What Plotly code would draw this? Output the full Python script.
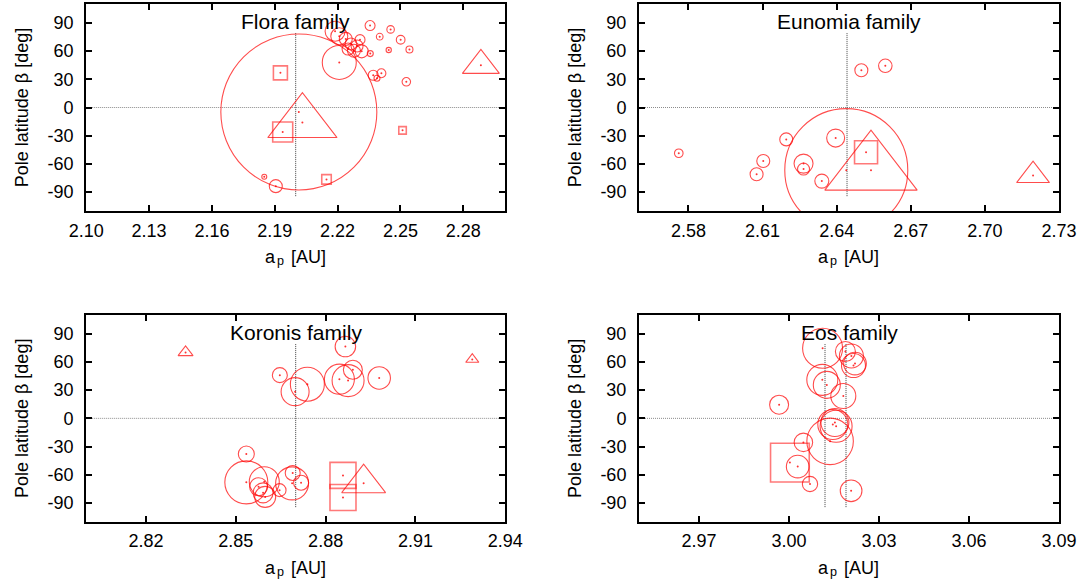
import plotly.graph_objects as go

# ---------------- data (a_p [AU], beta [deg], marker size [px]) ----------------
flora_circle_a = [2.2015, 2.2208, 2.1905, 2.1850, 2.2188, 2.2208, 2.2239, 2.2264, 2.2250,
                  2.2278, 2.2315, 2.2293, 2.2307, 2.2355, 2.2453, 2.2401, 2.2501, 2.2444,
                  2.2543, 2.2356, 2.2370, 2.2409, 2.2388, 2.2528]
flora_circle_beta = [-4.8, 47.9, -83.6, -73.6, 81.1, 75.7, 72.9, 67.5, 62.1,
                     60.3, 59.7, 65.4, 72.1, 87.1, 83.0, 75.3, 72.0, 61.1,
                     61.6, 57.3, 34.3, 36.4, 31.1, 27.3]
flora_circle_size = [156, 34, 13, 5, 20, 17, 13, 12, 12,
                     13, 13, 12, 10, 10, 7.5, 6.7, 8.7, 5.3,
                     7, 6, 10, 9, 6, 8.5]
flora_square_a = [2.1927, 2.1938, 2.2510, 2.2147]
flora_square_beta = [36.8, -26.0, -24.3, -76.4]
flora_square_size = [14, 20, 7.5, 9.5]
flora_triangle_a = [2.2032, 2.2884]
flora_triangle_beta = [-16.0, 44.8]
flora_triangle_size = [60, 32]
flora_center = [2.200]

eunomia_circle_a = [2.6439, 2.5761, 2.6103, 2.6076, 2.6196, 2.6266, 2.6266, 2.6340,
                    2.6396, 2.6500, 2.6597]
eunomia_circle_beta = [-66.6, -48.6, -56.8, -71.0, -33.9, -59.6, -65.4, -78.2,
                       -32.5, 39.6, 44.3]
eunomia_circle_size = [123, 8.6, 13, 13, 13, 19, 12, 14, 18, 13, 13.5]
eunomia_square_a = [2.6519]
eunomia_square_beta = [-47.5]
eunomia_square_size = [23]
eunomia_triangle_a = [2.6539, 2.7195]
eunomia_triangle_beta = [-66.6, -72.2]
eunomia_triangle_size = [80, 28.5]
eunomia_center = [2.6442]

koronis_circle_a = [2.8866, 2.8647, 2.8698, 2.8739, 2.8846, 2.8875, 2.8891, 2.8979,
                    2.8535, 2.8535, 2.8595, 2.8576, 2.8591, 2.8598, 2.8646, 2.8690,
                    2.8688, 2.8718]
koronis_circle_beta = [76.4, 46.0, 28.4, 36.3, 41.7, 40.2, 51.7, 43.0,
                       -38.0, -68.1, -67.5, -72.8, -79.3, -83.6, -76.4, -58.1,
                       -69.2, -68.5]
koronis_circle_size = [20.5, 15, 28, 34, 30, 32, 19, 22.5,
                       16, 43, 30, 18, 20, 21, 13, 15, 33, 15]
koronis_square_a = [2.8858, 2.8858]
koronis_square_beta = [-60.7, -84.3]
koronis_square_size = [26, 26]
koronis_triangle_a = [2.8927, 2.8332, 2.9290]
koronis_triangle_beta = [-69.0, 70.2, 62.7]
koronis_triangle_size = [38, 13, 11.4]
koronis_center = [2.870]

eos_circle_a = [3.0112, 3.0188, 3.0208, 3.0220, 3.0215, 3.0111, 3.0126, 3.0181,
                2.9967, 3.0146, 3.0157, 3.0153, 3.0137, 3.0048, 3.0029, 3.0070, 3.0207]
eos_circle_beta = [74.6, 71.2, 66.4, 58.3, 56.2, 41.0, 35.6, 23.8,
                   14.5, -6.6, -8.4, -4.4, -24.5, -25.6, -51.3, -69.9, -77.1]
eos_circle_size = [40, 20, 24, 22.7, 24, 31, 27, 25,
                   19, 30, 32, 28, 46.5, 18.5, 22.7, 15.3, 21.7]
eos_square_a = [3.0003]
eos_square_beta = [-47.1]
eos_square_size = [38.7]
eos_triangle_a = []
eos_triangle_beta = []
eos_triangle_size = []
eos_center = [3.012, 3.019]

family_names = ["Flora family", "Eunomia family", "Koronis family", "Eos family"]
x_title_main = "a"
x_title_sub = "p"
x_title_unit = "[AU]"
y_title = "Pole latitude β [deg]"
x_ranges = [[2.10, 2.30], [2.56, 2.73], [2.80, 2.94], [2.95, 3.09]]
x_ticks = [[2.10, 2.13, 2.16, 2.19, 2.22, 2.25, 2.28],
           [2.58, 2.61, 2.64, 2.67, 2.70, 2.73],
           [2.82, 2.85, 2.88, 2.91, 2.94],
           [2.97, 3.00, 3.03, 3.06, 3.09]]
y_ticks = [-90, -60, -30, 0, 30, 60, 90]
y_range = [-110, 110]
center_beta_span = [79, -95]

# ---------------- layout geometry (pixels) ----------------
W, H = 1078, 587
panel_px = [  # left, right, top, bottom
    (86.2, 505.2, 4.0, 211.0),
    (639.0, 1059.0, 4.0, 211.0),
    (86.2, 505.2, 315.0, 521.7),
    (639.0, 1059.0, 315.0, 521.7),
]

RED = "#ff0000"
FONT = "Liberation Sans, Arial, sans-serif"

families = [
    (flora_circle_a, flora_circle_beta, flora_circle_size, flora_square_a, flora_square_beta,
     flora_square_size, flora_triangle_a, flora_triangle_beta, flora_triangle_size, flora_center),
    (eunomia_circle_a, eunomia_circle_beta, eunomia_circle_size, eunomia_square_a, eunomia_square_beta,
     eunomia_square_size, eunomia_triangle_a, eunomia_triangle_beta, eunomia_triangle_size, eunomia_center),
    (koronis_circle_a, koronis_circle_beta, koronis_circle_size, koronis_square_a, koronis_square_beta,
     koronis_square_size, koronis_triangle_a, koronis_triangle_beta, koronis_triangle_size, koronis_center),
    (eos_circle_a, eos_circle_beta, eos_circle_size, eos_square_a, eos_square_beta,
     eos_square_size, eos_triangle_a, eos_triangle_beta, eos_triangle_size, eos_center),
]

fig = go.Figure()
annotations = []


def txt(text, xpx, ypx, size, xanchor="center", angle=0):
    return dict(text=text, x=xpx / W, y=1 - ypx / H, xref="paper", yref="paper",
                showarrow=False, xanchor=xanchor, yanchor="middle", textangle=angle,
                font=dict(family=FONT, size=size, color="black"))


for i, fam in enumerate(families):
    (ca, cb, cs, sa, sb, ss, ta, tb, tsz, centers) = fam
    xa = "x" if i == 0 else f"x{i+1}"
    ya = "y" if i == 0 else f"y{i+1}"
    # zero line
    fig.add_trace(go.Scatter(x=x_ranges[i], y=[0, 0], xaxis=xa, yaxis=ya, mode="lines",
                             line=dict(color="#8c8c8c", width=1, dash="1px,1px"),
                             hoverinfo="skip", showlegend=False))
    # family center lines
    for c in centers:
        fig.add_trace(go.Scatter(x=[c, c], y=center_beta_span, xaxis=xa, yaxis=ya, mode="lines",
                                 line=dict(color="#404040", width=1, dash="1px,1px"),
                                 hoverinfo="skip", showlegend=False))
    # circles
    fig.add_trace(go.Scatter(x=ca, y=cb, xaxis=xa, yaxis=ya, mode="markers",
                             marker=dict(symbol="circle-open", size=cs, color=RED,
                                         line=dict(color=RED, width=1.1)),
                             showlegend=False))
    # squares
    if sa:
        fig.add_trace(go.Scatter(x=sa, y=sb, xaxis=xa, yaxis=ya, mode="markers",
                                 marker=dict(symbol="square-open", size=ss, color="rgba(255,0,0,0.75)",
                                             line=dict(color="rgba(255,0,0,0.75)", width=1.6)),
                                 showlegend=False))
    # triangles
    if ta:
        fig.add_trace(go.Scatter(x=ta, y=tb, xaxis=xa, yaxis=ya, mode="markers",
                                 marker=dict(symbol="triangle-up-open", size=tsz, color=RED,
                                             line=dict(color=RED, width=1.1)),
                                 showlegend=False))
    # centre dots
    fig.add_trace(go.Scatter(x=ca + sa + ta, y=cb + sb + tb, xaxis=xa, yaxis=ya, mode="markers",
                             marker=dict(symbol="circle", size=2, color="rgba(255,0,0,0.8)",
                                         line=dict(width=0)),
                             showlegend=False))

    l, r, t, b = panel_px[i]
    dom_x = [l / W, r / W]
    dom_y = [1 - b / H, 1 - t / H]
    axis_common = dict(showline=True, mirror="ticks", linecolor="black", linewidth=2,
                       ticks="inside", ticklen=6, tickwidth=1.5, tickcolor="black",
                       showgrid=False, zeroline=False, automargin=False,
                       tickfont=dict(family=FONT, size=18, color="black"))
    fig.update_layout(**{
        ("xaxis" if i == 0 else f"xaxis{i+1}"): dict(
            domain=dom_x, range=x_ranges[i], anchor=ya, tickvals=x_ticks[i],
            ticktext=[f"{v:.2f}" for v in x_ticks[i]], ticklabelstandoff=2,
            **axis_common),
        ("yaxis" if i == 0 else f"yaxis{i+1}"): dict(
            domain=dom_y, range=y_range, anchor=xa, tickvals=y_ticks,
            ticktext=[str(v) for v in y_ticks], ticklabelstandoff=7,
            title=dict(text=y_title, standoff=14, font=dict(family=FONT, size=18, color="black")),
            **axis_common),
    })
    cx = (l + r) / 2
    # panel title
    annotations.append(txt(family_names[i], cx, t + 17.0, 21))
    # x-axis title: "a" + subscript "p" + " [AU]"
    annotations.append(txt(x_title_main, cx - 25.3, b + 46.0, 18))
    annotations.append(txt(x_title_sub, cx - 15.6, b + 50.0, 12.6))
    annotations.append(txt(x_title_unit, cx + 12.5, b + 46.0, 18))

fig.update_layout(width=W, height=H, margin=dict(l=0, r=0, t=0, b=0),
                  paper_bgcolor="white", plot_bgcolor="white",
                  annotations=annotations, showlegend=False)

fig.write_html("out.html")
